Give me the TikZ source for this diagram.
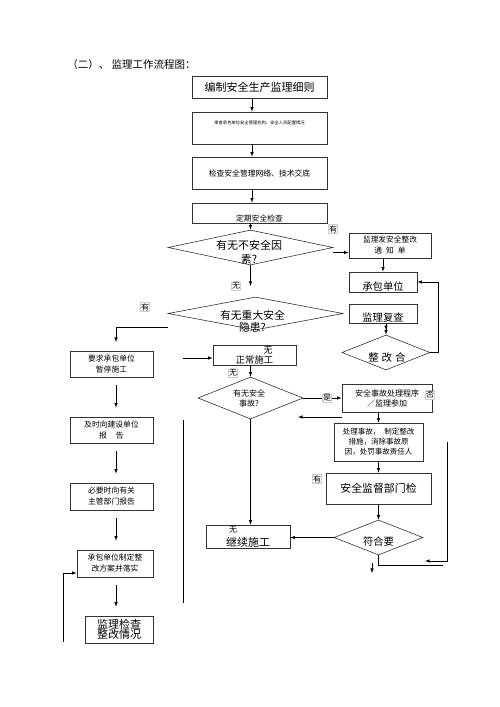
\documentclass[tikz,border=0pt]{standalone}
\usepackage{fontspec}
\setmainfont{Noto Sans CJK SC}
\usetikzlibrary{arrows,shapes.geometric}
\tikzset{
box/.style={draw=black!80,inner sep=1pt,align=center},
dia/.style={draw=black!80,diamond,inner sep=0pt},
tag/.style={draw=black!20,fill=white,inner sep=0.6pt,font=\fontsize{8}{9}\selectfont},
txt/.style={inner sep=0pt,align=center}
}
\begin{document}
\begin{tikzpicture}[x=1pt,y=-1pt,semithick,>=latex]
\useasboundingbox (0,0) rectangle (500,707);
\node[txt,anchor=west,font=\fontsize{10.5}{12}\selectfont] (ttl) at (67,65) {（二）、 监理工作流程图：};
\node[box,minimum width=135,minimum height=22,font=\fontsize{11}{13}\selectfont] (b1) at (259.5,87) {编制安全生产监理细则};
\node[box,minimum width=135,minimum height=32,text height=11.5pt,text depth=18.5pt,font=\fontsize{4.3}{5}\selectfont] (b2) at (259.5,128) {审查承包单位安全管理机构、安全人员配置情况};
\node[box,minimum width=135,minimum height=32,font=\fontsize{7.8}{9}\selectfont] (b3) at (259.5,173) {检查安全管理网络、技术交底};
\node[box,minimum width=135,minimum height=20,text height=17pt,text depth=1pt,font=\fontsize{7.8}{9}\selectfont] (b4) at (259.5,213) {定期安全检查};
\node[dia,minimum width=165,minimum height=35] (d1) at (250.5,247.5) {};
\node[txt,font=\fontsize{11}{14}\selectfont] (t1) at (249,252) {有无不安全因\\素?};
\node[dia,minimum width=175,minimum height=33] (d2) at (255.5,313.5) {};
\node[txt,font=\fontsize{10.8}{12}\selectfont] (t2) at (252.5,321) {有无重大安全\\隐患?};
\node[box,minimum width=82,minimum height=25,font=\fontsize{7.7}{11}\selectfont] (p1) at (390,245.5) {监理发安全整改\\通\hspace{4pt}知\hspace{4pt}单};
\node[box,minimum width=68,minimum height=20,text height=17pt,text depth=1pt,font=\fontsize{10.3}{12}\selectfont] (p2) at (383,282) {承包单位};
\node[box,minimum width=68,minimum height=19,text height=16pt,text depth=1pt,font=\fontsize{10.3}{12}\selectfont] (p3) at (383,313.5) {监理复查};
\node[dia,minimum width=88,minimum height=35] (d3) at (386,352.5) {};
\node[txt,font=\fontsize{10.5}{12}\selectfont] (t3) at (387,358) {整\hspace{3pt}改\hspace{3pt}合};
\node[box,minimum width=83,minimum height=20,text height=17pt,text depth=1pt,font=\fontsize{9.3}{11}\selectfont] (n1) at (254.5,355) {正常施工};
\node[txt,font=\fontsize{9}{10}\selectfont] (w2) at (268,350) {无};
\node[dia,minimum width=105,minimum height=42] (d4) at (250.5,398) {};
\node[txt,font=\fontsize{8}{10}\selectfont] (t4) at (249,398) {有无安全\\事故?};
\node[box,minimum width=90,minimum height=28,font=\fontsize{8}{10}\selectfont] (s1) at (387,398) {安全事故处理程序\\／监理参加};
\node[box,minimum width=89,minimum height=38,font=\fontsize{7.5}{10}\selectfont] (s2) at (378.5,442) {处理事故，\hspace{4pt}制定整改\\措施，消除事故原\\因，处罚事故责任人};
\node[box,minimum width=105,minimum height=31,font=\fontsize{10.9}{12}\selectfont] (s3) at (378.5,488.5) {安全监督部门检};
\node[dia,minimum width=89,minimum height=35] (d5) at (378.5,537.5) {};
\node[txt,font=\fontsize{10.3}{12}\selectfont] (t5) at (378.5,542) {符合要};
\node[box,minimum width=84,minimum height=23,text height=20pt,text depth=1pt,font=\fontsize{11}{12}\selectfont] (n2) at (248,536.5) {继续施工};
\node[txt,font=\fontsize{8}{9}\selectfont] (w6) at (233,530) {无};
\node[box,minimum width=83,minimum height=26,font=\fontsize{7.8}{11}\selectfont] (l1) at (111.5,364) {要求承包单位\\暂停施工};
\node[box,minimum width=83,minimum height=26,font=\fontsize{7.8}{11}\selectfont] (l2) at (111.5,430) {及时向建设单位\\报\hspace{9pt}告};
\node[box,minimum width=83,minimum height=27,font=\fontsize{7.8}{11}\selectfont] (l3) at (111.5,496.5) {必要时向有关\\主管部门报告};
\node[box,minimum width=76,minimum height=27,font=\fontsize{7.8}{11}\selectfont] (l4) at (115,563.5) {承包单位制定整\\改方案并落实};
\node[box,minimum width=68,minimum height=27,font=\fontsize{11}{10.5}\selectfont] (l5) at (119,629.5) {监理检查\\整改情况};
\node[tag] (w1) at (236,286) {无};
\node[tag] (w3) at (233,373) {无};
\node[tag] (w4) at (430,395) {否};
\node[tag] (w5) at (317,479) {有};
\node[tag] (w7) at (145,307) {有};
\node[tag] (w9) at (333,229) {有};
\coordinate (sp) at (252,0);
\coordinate (c0) at (250.5,286);
\coordinate (c2) at (116,327);
\coordinate (c3) at (116,342);
\coordinate (c4) at (63,642);
\coordinate (c5) at (183,420);
\coordinate (c6) at (183,603);
\coordinate (e1) at (298,417);
\coordinate (e2) at (372,563);
\coordinate (e3) at (372,573);
\coordinate (e4) at (443,565);
\coordinate (e5) at (447,442);
\coordinate (e6) at (425,561);
\draw[->] (b1.south-|sp) -- (b2.north-|sp);
\draw[->] (b2.south-|sp) -- (b3.north-|sp);
\draw[->] (b3.south-|sp) -- (b4.north-|sp);
\draw[->] (b4.south-|d1) -- (d1.north);
\draw[->] (d1.south) -- (c0);
\draw[->] ([yshift=-5pt]d1.east) -- ([yshift=-5pt]d1.east-|p1.west);
\draw[->] (p1.south-|p2) -- (p2.north);
\draw[->>] (p3.south-|d3) -- (d3.north);
\draw[->] (d3.east) -- ++(8,0) |- (p2.east);
\draw[->] (c2-|d2.west) -- (c2) -- (c3);
\foreach \a/\b in {l1/l2,l2/l3,l3/l4,l4/l5}
  \draw[->] ([yshift=-8pt]\a.south-|c2) -- ([yshift=9pt]\b.north-|c2);
\draw[->] (c4) |- ([yshift=-9.5pt]l4.west);
\draw (c5) -- (c6);
\draw[->] ([yshift=-3pt]n1.west-|c5) -- ([yshift=-3pt]n1.west);
\draw[->] (n1.south-|d4) -- (d4.north);
\draw[->] (d4.east) -- (s1.west) node[tag,pos=0.62] (w8) {是};
\draw[->] (e1-|s1.west) -- (e1);
\draw[->] (s1.south-|s2) -- (s2.north);
\draw[->] (s2.south) -- (s3.north);
\draw[->] (s3.south) -- (d5.north);
\draw[->] (d5.west) -- (d5.west-|n2.east);
\draw[->] (d4.south) -- (d4.south|-n2.north);
\draw[->] (e2) -- (e3);
\draw (d5.south) |- (e4);
\draw[->] (e5) |- (e6);
\end{tikzpicture}
\end{document}
